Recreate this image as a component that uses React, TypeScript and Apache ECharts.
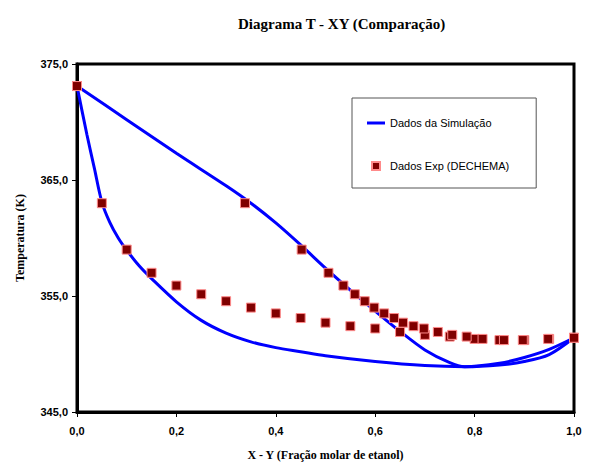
import React, { useEffect, useRef } from "react";
import * as echarts from "echarts";

// Experimental data (DECHEMA): liquid x, vapour y, temperature T
const expLiquidX = [0, 0.05, 0.1, 0.15, 0.2, 0.25, 0.3, 0.35, 0.4, 0.45, 0.5, 0.55, 0.6, 0.65, 0.7, 0.75, 0.8, 0.85, 0.9, 0.95, 1.0];
const expVaporY = [0, 0.338, 0.452, 0.506, 0.536, 0.559, 0.579, 0.598, 0.618, 0.638, 0.656, 0.677, 0.698, 0.726, 0.755, 0.784, 0.816, 0.859, 0.897, 0.948, 1.0];
const expT = [373.1, 363.0, 359.0, 357.0, 355.9, 355.15, 354.55, 354.0, 353.5, 353.1, 352.7, 352.4, 352.2, 351.9, 351.65, 351.5, 351.3, 351.2, 351.2, 351.3, 351.4];

// Simulation: bubble curve (T-x)
const simBubbleX = [0, 0.02, 0.035, 0.05, 0.066, 0.083, 0.1, 0.125, 0.15, 0.2, 0.25, 0.3, 0.35, 0.4, 0.45, 0.5, 0.6, 0.7, 0.78, 0.85, 0.9, 0.95, 1.0];
const simBubbleT = [373.1, 368.9, 366.0, 363.1, 361.35, 360.0, 358.95, 357.6, 356.5, 354.5, 352.9, 351.8, 351.05, 350.55, 350.2, 349.85, 349.35, 349.0, 348.9, 349.05, 349.35, 349.95, 351.4];

// Simulation: dew curve (T-y)
const simDewY = [0, 0.1, 0.2, 0.3, 0.35, 0.4, 0.45, 0.5, 0.55, 0.6, 0.65, 0.7, 0.75, 0.78, 0.85, 0.9, 0.95, 1.0];
const simDewT = [373.1, 370.2, 367.3, 364.5, 363.0, 361.3, 359.4, 357.4, 355.5, 353.7, 351.95, 350.35, 349.25, 348.9, 349.2, 349.7, 350.4, 351.4];

const SIM_NAME = "Dados da Simulação";
const EXP_NAME = "Dados Exp (DECHEMA)";

const fmt = (v: number) => v.toFixed(1).replace(".", ",");

export default function App() {
  const ref = useRef<HTMLDivElement>(null);
  useEffect(() => {
    if (!ref.current) return;
    const chart = echarts.init(ref.current, null, { renderer: "svg" });
    const zip = (a: number[], b: number[]) => a.map((v, i) => [v, b[i]]);
    const expData = [...zip(expLiquidX, expT), ...zip(expVaporY, expT)];
    chart.setOption({
      animation: false,
      backgroundColor: "#fff",
      title: {
        text: "Diagrama T - XY (Comparação)",
        left: 233,
        top: 11,
        textStyle: { fontFamily: "Liberation Serif", fontWeight: "bold", fontSize: 15, color: "#000" },
      },
      legend: {
        orient: "vertical",
        left: 352,
        top: 98,
        padding: [18, 27, 15, 15],
        itemGap: 29,
        itemWidth: 18,
        itemHeight: 10,
        backgroundColor: "#fff",
        borderColor: "#555",
        borderWidth: 1,
        borderRadius: 0,
        data: [
          { name: SIM_NAME, icon: "path://M0,0 L18,0 L18,3 L0,3 Z" },
          { name: EXP_NAME },
        ],
        textStyle: { fontFamily: "Liberation Sans", fontSize: 11, color: "#000", lineHeight: 14 },
      },
      grid: {
        left: 77,
        right: 18,
        top: 64,
        bottom: 54,
        show: true,
        borderColor: "#000",
        borderWidth: 3,
        backgroundColor: "#fff",
      },
      xAxis: {
        type: "value",
        min: 0,
        max: 1,
        interval: 0.2,
        name: "X - Y (Fração molar de etanol)",
        nameLocation: "middle",
        nameGap: 37,
        nameTextStyle: { fontFamily: "Liberation Serif", fontWeight: "bold", fontSize: 12, color: "#000" },
        axisLine: { show: true, lineStyle: { color: "#000", width: 3 } },
        axisTick: { show: true, length: 5, lineStyle: { color: "#000", width: 1 } },
        axisLabel: { formatter: fmt, margin: 13, fontFamily: "Liberation Sans", fontWeight: "bold", fontSize: 11, color: "#000" },
        splitLine: { show: false },
      },
      yAxis: {
        type: "value",
        min: 345,
        max: 375,
        interval: 10,
        name: "Temperatura (K)",
        nameLocation: "middle",
        nameGap: 51,
        nameTextStyle: { fontFamily: "Liberation Serif", fontWeight: "bold", fontSize: 12, color: "#000" },
        axisLine: { show: true, lineStyle: { color: "#000", width: 3 } },
        axisTick: { show: true, length: 5, lineStyle: { color: "#000", width: 1 } },
        axisLabel: { formatter: fmt, margin: 9, fontFamily: "Liberation Sans", fontWeight: "bold", fontSize: 11, color: "#000" },
        splitLine: { show: false },
      },
      series: [
        {
          name: SIM_NAME,
          type: "line",
          data: zip(simDewY, simDewT),
          smooth: 0.3,
          symbol: "none",
          lineStyle: { color: "#0000FF", width: 3 },
          itemStyle: { color: "#0000FF" },
          z: 2,
        },
        {
          name: SIM_NAME,
          type: "line",
          data: zip(simBubbleX, simBubbleT),
          smooth: 0.3,
          symbol: "none",
          lineStyle: { color: "#0000FF", width: 3 },
          itemStyle: { color: "#0000FF" },
          z: 2,
        },
        {
          name: EXP_NAME,
          type: "line",
          data: expData,
          symbol: "rect",
          symbolSize: 9,
          showSymbol: true,
          lineStyle: { opacity: 0, width: 0 },
          itemStyle: { color: "#800000", borderColor: "#FF8A8A", borderWidth: 1 },
          z: 3,
        },
      ],
    });
    return () => chart.dispose();
  }, []);
  return <div ref={ref} style={{ position: "absolute", left: 0, top: 0, width: 592, height: 466 }} />;
}
